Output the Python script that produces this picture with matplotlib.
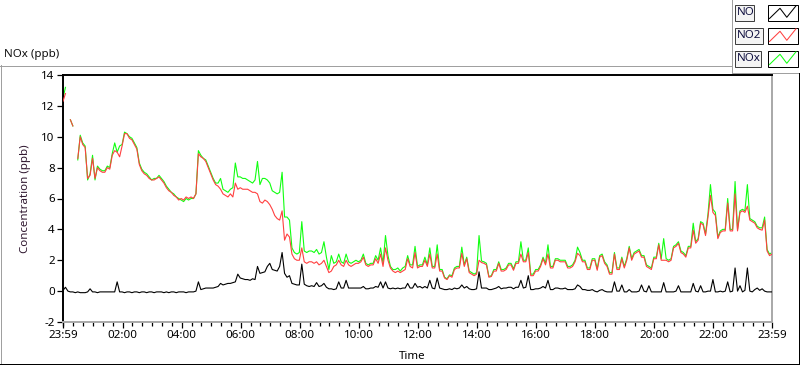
import numpy as np
import matplotlib
matplotlib.use('Agg')
import matplotlib.pyplot as plt
from matplotlib.patches import Rectangle

nan = float('nan')

# ---- data: 5-minute samples from 23:59 (minute 0) to 23:59 next day (minute 1440)
sample_step_min = 5

no2 = [
    12.3, 12.8, nan, 11.1, 10.7, nan, 8.6, 10.0, 9.5, 9.3, 7.3, 7.5,
    8.6, 7.3, 8.0, 7.8, 7.7, 7.7, 8.0, 7.9, 8.8, 9.1, 9.0, 8.7,
    9.4, 10.2, 10.2, 9.9, 9.8, 9.5, 9.2, 8.2, 7.8, 7.6, 7.5, 7.3,
    7.2, 7.2, 7.3, 7.4, 7.2, 7.0, 6.7, 6.5, 6.4, 6.2, 6.1, 5.9,
    6.0, 5.9, 6.1, 6.0, 6.1, 6.0, 6.3, 8.9, 8.7, 8.6, 8.4, 8.0,
    7.6, 7.2, 6.9, 6.8, 6.6, 6.3, 6.2, 6.1, 6.3, 6.1, 7.0, 6.6,
    6.7, 6.6, 6.6, 6.6, 6.5, 6.4, 6.4, 6.3, 5.8, 5.7, 5.9, 5.8,
    5.6, 5.3, 4.9, 4.7, 4.6, 5.2, 3.3, 3.7, 3.5, 2.4, 2.1, 2.0,
    2.0, 2.8, 1.9, 1.8, 1.9, 1.9, 1.8, 1.9, 1.7, 1.8, 2.0, 1.6,
    1.2, 1.3, 1.6, 1.7, 2.0, 1.7, 1.6, 2.0, 1.7, 1.6, 1.7, 1.8,
    1.8, 1.9, 2.2, 1.7, 1.6, 1.7, 1.7, 2.1, 1.8, 2.4, 1.6, 2.8,
    2.0, 1.5, 1.3, 1.2, 1.3, 1.2, 1.3, 1.4, 2.1, 1.6, 1.5, 2.5,
    1.5, 1.6, 1.6, 2.0, 1.6, 2.4, 1.5, 1.5, 2.4, 1.3, 1.3, 0.85,
    0.75, 1.0, 0.9, 1.4, 1.5, 1.5, 2.45, 1.6, 2.1, 1.2, 1.1, 1.0,
    1.1, 2.0, 1.85, 1.8, 1.7, 0.9, 0.95, 1.3, 1.3, 1.8, 1.3, 1.3,
    1.4, 1.7, 1.7, 1.35, 1.8, 1.8, 2.4, 1.9, 1.9, 2.5, 1.0, 1.0,
    1.3, 1.3, 1.6, 2.1, 1.7, 2.4, 1.5, 1.5, 2.0, 2.0, 1.9, 1.9,
    1.9, 1.5, 1.5, 1.6, 1.9, 2.45, 2.3, 1.9, 1.9, 1.4, 1.4, 2.0,
    2.0, 1.35, 2.2, 2.3, 1.8, 1.6, 1.1, 1.1, 2.4, 1.4, 1.4, 2.1,
    1.5, 2.0, 2.8, 2.0, 2.4, 2.5, 2.6, 2.2, 2.2, 1.6, 1.5, 1.4,
    2.1, 2.1, 3.0, 2.0, 2.0, 2.0, 1.9, 2.0, 2.8, 2.9, 3.1, 2.5,
    2.4, 2.2, 2.8, 2.8, 3.95, 3.1, 3.3, 4.4, 4.3, 3.6, 4.8, 6.2,
    5.1, 4.9, 3.4, 3.8, 3.9, 3.9, 5.7, 3.9, 3.9, 6.3, 3.9, 5.1,
    5.2, 5.1, 5.5, 4.6, 4.5, 4.4, 4.1, 4.0, 3.95, 4.6, 2.6, 2.3, 2.4,
]

nox = [
    12.5, 13.2, nan, 11.1, 10.7, nan, 8.5, 10.1, 9.6, 9.4, 7.2, 7.6,
    8.8, 7.2, 8.1, 7.9, 7.8, 7.8, 8.1, 8.0, 8.9, 9.6, 9.0, 9.4,
    9.5, 10.3, 10.2, 10.0, 9.9, 9.6, 9.3, 8.3, 7.9, 7.7, 7.6, 7.4,
    7.2, 7.3, 7.3, 7.5, 7.3, 7.1, 6.8, 6.6, 6.4, 6.3, 6.1, 6.0,
    5.9, 5.8, 6.0, 5.9, 6.0, 6.0, 6.3, 9.1, 8.8, 8.6, 8.5, 8.1,
    7.7, 7.3, 7.0, 7.0, 7.3, 6.6, 6.5, 6.4, 6.6, 6.7, 8.3, 7.4,
    7.4, 7.3, 7.3, 7.2, 7.1, 7.0, 7.2, 8.4, 6.9, 7.3, 7.3, 7.2,
    7.0, 6.5, 6.4, 6.3, 6.4, 7.7, 4.8, 4.8, 4.6, 2.8, 2.5, 2.4,
    2.5, 4.5, 2.6, 2.5, 2.6, 2.6, 2.5, 2.7, 2.4, 2.5, 3.2, 2.2,
    1.4, 2.3, 1.8, 1.9, 2.4, 1.9, 1.8, 2.4, 1.9, 1.8, 1.9, 2.0,
    1.9, 2.0, 2.4, 1.8, 1.7, 1.8, 1.8, 2.3, 2.0, 2.8, 1.8, 3.6,
    2.3, 1.6, 1.4, 1.4, 1.5, 1.3, 1.5, 1.6, 2.3, 1.7, 1.7, 2.9,
    1.6, 1.7, 1.7, 2.2, 1.7, 2.8, 1.6, 1.6, 3.0, 1.4, 1.4, 0.9,
    0.8, 1.05, 1.0, 1.5, 1.6, 1.6, 2.85, 1.7, 2.2, 1.3, 1.2, 1.1,
    1.2, 3.6, 1.95, 1.9, 1.8, 0.95, 1.0, 1.4, 1.4, 1.9, 1.4, 1.4,
    1.5, 1.8, 1.8, 1.45, 1.9, 1.9, 3.2, 2.0, 2.0, 2.8, 1.1, 1.1,
    1.4, 1.4, 1.7, 2.2, 1.8, 3.0, 1.6, 1.6, 2.1, 2.1, 2.0, 2.0,
    2.0, 1.6, 1.6, 1.7, 2.0, 2.85, 2.5, 2.0, 2.0, 1.5, 1.5, 2.1,
    2.1, 1.45, 2.3, 2.4, 1.9, 1.7, 1.2, 1.2, 2.5, 1.5, 1.5, 2.2,
    1.6, 2.1, 2.9, 2.1, 2.5, 2.6, 2.7, 2.3, 2.3, 1.7, 1.6, 1.5,
    2.2, 2.2, 3.1, 2.1, 3.4, 2.1, 2.0, 2.1, 2.9, 3.0, 3.2, 2.6,
    2.5, 2.3, 2.9, 2.9, 4.4, 3.2, 3.4, 4.5, 4.4, 3.7, 5.0, 6.9,
    5.3, 5.1, 3.5, 3.9, 4.0, 4.0, 6.0, 4.0, 4.0, 7.1, 4.0, 5.2,
    5.3, 5.2, 6.9, 4.7, 4.6, 4.5, 4.2, 4.1, 4.1, 4.8, 2.7, 2.4, 2.5,
]

no = [
    0.05, 0.25, 0.0, -0.05, -0.05, -0.1, -0.05, -0.1, -0.1, -0.1, -0.05, 0.15,
    -0.05, -0.05, -0.1, -0.05, -0.05, -0.05, -0.05, -0.05, -0.05, -0.05, 0.6, -0.05,
    -0.05, -0.1, -0.05, -0.05, -0.1, -0.05, -0.05, -0.1, -0.05, -0.05, -0.1, -0.05,
    -0.05, -0.1, -0.05, -0.05, -0.05, -0.1, -0.05, -0.1, -0.05, -0.05, -0.1, -0.05,
    -0.05, -0.05, -0.1, -0.05, -0.05, -0.05, 0.0, 0.6, 0.1, 0.15, 0.2, 0.2,
    0.2, 0.2, 0.25, 0.3, 0.5, 0.4, 0.45, 0.5, 0.5, 0.55, 0.6, 1.1,
    0.85, 0.8, 0.75, 0.75, 0.7, 0.8, 0.75, 1.6, 1.15, 1.2, 1.25, 1.6,
    1.8, 1.4, 1.35, 1.3, 1.6, 2.5, 1.15, 0.9, 1.0, 0.5, 0.45, 0.4,
    0.4, 1.75, 0.45, 0.35, 0.3, 0.35, 0.3, 0.55, 0.3, 0.35, 0.5, 0.25,
    0.15, 0.15, 0.1, 0.15, 0.6, 0.2, 0.2, 0.7, 0.2, 0.2, 0.2, 0.2,
    0.2, 0.2, 0.3, 0.15, 0.15, 0.2, 0.2, 0.3, 0.25, 0.6, 0.2, 0.6,
    0.2, 0.15, 0.2, 0.15, 0.2, 0.15, 0.2, 0.2, 0.5, 0.2, 0.2, 0.5,
    0.25, 0.3, 0.2, 0.3, 0.2, 0.7, 0.2, 0.15, 0.85, 0.2, 0.15, 0.1,
    0.1, 0.15, 0.1, 0.2, 0.15, 0.2, 0.4, 0.2, 0.3, 0.15, 0.1, 0.1,
    0.15, 1.25, 0.2, 0.2, 0.2, 0.1, 0.1, 0.15, 0.2, 0.3, 0.15, 0.2,
    0.2, 0.25, 0.25, 0.15, 0.25, 0.25, 0.7, 0.2, 0.25, 1.0, 0.1, 0.1,
    0.15, 0.15, 0.2, 0.3, 0.2, 0.7, 0.1, 0.1, 0.2, 0.2, 0.15, 0.15,
    0.2, 0.1, 0.1, 0.1, 0.15, 0.4, 0.3, 0.1, 0.1, 0.05, 0.05, 0.1,
    0.0, -0.05, 0.05, 0.1, 0.0, -0.05, -0.05, -0.05, 0.6, 0.0, 0.0, 0.4,
    -0.05, -0.05, 0.1, -0.05, -0.05, -0.05, 0.0, 0.4, 0.0, -0.05, 0.35, -0.05,
    -0.05, -0.05, -0.05, -0.05, 0.55, -0.05, -0.05, -0.05, -0.05, 0.0, 0.35, -0.05,
    -0.05, -0.05, -0.05, -0.05, 0.5, 0.0, -0.05, 0.35, -0.05, -0.05, 0.0, 0.0,
    0.75, -0.05, -0.05, 0.0, -0.05, 0.0, 0.6, -0.05, 0.0, 1.5, 0.0, 0.35,
    -0.05, 0.05, 1.5, 0.0, -0.05, 0.1, 0.2, 0.05, 0.15, 0.0, -0.05, -0.05, -0.05,
]

x_tick_minutes = [0, 121, 241, 361, 481, 601, 721, 841, 961, 1081, 1201, 1321, 1440]
x_tick_labels = ['23:59', '02:00', '04:00', '06:00', '08:00', '10:00', '12:00',
                 '14:00', '16:00', '18:00', '20:00', '22:00', '23:59']
y_ticks = [-2, 0, 2, 4, 6, 8, 10, 12, 14]

series_names = ['NO', 'NO2', 'NOx']
series_colors = ['#000000', '#ff4040', '#10ff10']

minutes = np.arange(len(no2)) * sample_step_min

# ---- figure
W, H = 800, 365
fig = plt.figure(figsize=(W / 100, H / 100), dpi=100)
fig.patch.set_facecolor('white')
FONT = 'Noto Sans'

# background overlay in pixel coordinates
bg = fig.add_axes([0, 0, 1, 1])
bg.set_xlim(0, W)
bg.set_ylim(H, 0)
bg.axis('off')
px = 0.72
gray = '#a0a0a0'
bg.plot([0.5, 0.5], [65, 364], color=gray, lw=px)
bg.plot([0, 731.5], [65.5, 65.5], color=gray, lw=px)
bg.plot([731.5, 731.5], [0, 72.5], color=gray, lw=px)
bg.plot([731.5, 800], [72.5, 72.5], color=gray, lw=px)
bg.plot([0, 800], [363.5, 363.5], color='black', lw=px)
bg.plot([798.5, 798.5], [72.5, 364], color='black', lw=px)

bg.text(4, 55, 'NOx (ppb)', fontsize=8.3, family=FONT, va='center', ha='left', color='#101010')

# legend
leg_tops = [4, 27, 50]
leg_label_w = [19, 28, 26]
for name, col, top, lw_ in zip(series_names, series_colors, leg_tops, leg_label_w):
    bg.add_patch(Rectangle((734.5, top + 0.5), lw_, 16, facecolor='#f4f4f4',
                           edgecolor='#404040', lw=px))
    bg.text(736.5, top + 8.8, name, fontsize=8.3, family=FONT, va='center', ha='left', color='#101040')
    bg.add_patch(Rectangle((767.5, top + 0.5), 30, 16, facecolor='white',
                           edgecolor='black', lw=px))
    zx = [769.5, 780, 786.8, 796]
    zy = [top + 14.5, top + 4.3, top + 13.3, top + 1.8]
    bg.plot(zx, zy, color=col, lw=0.75)

# main plot
ax = fig.add_axes([63 / W, 1 - 322 / H, (772 - 63) / W, (322 - 75) / H])
ax.set_facecolor('white')
ax.plot(minutes, nox, color=series_colors[2], lw=0.8, zorder=2)
ax.plot(minutes, no2, color=series_colors[1], lw=0.8, zorder=3)
ax.plot(minutes, no, color=series_colors[0], lw=0.8, zorder=4)

ax.set_xlim(0, 1440)
ax.set_ylim(-2, 14)
ax.set_xticks(x_tick_minutes)
ax.set_xticklabels(x_tick_labels)
ax.set_xticks([m for m in range(1, 1440, 20)], minor=True)
ax.set_yticks(y_ticks)
ax.set_yticklabels([str(v) for v in y_ticks])

for s in ['left', 'top']:
    ax.spines[s].set_color('black')
    ax.spines[s].set_linewidth(1.4)
for s in ['right', 'bottom']:
    ax.spines[s].set_color('#a8a8a8')
    ax.spines[s].set_linewidth(1.4)

ax.tick_params(axis='both', which='major', direction='out', length=4, width=0.9,
               labelsize=8.3, pad=2, colors='black')
ax.tick_params(axis='x', which='minor', direction='out', length=3, width=0.9, colors='black')
for lab in ax.get_xticklabels() + ax.get_yticklabels():
    lab.set_family(FONT)

ax.set_ylabel('Concentration (ppb)', fontsize=8.3, family=FONT, color='#301830')
ax.yaxis.set_label_coords((31 - 63) / 709, 0.5)
ax.set_xlabel('Time', fontsize=8.3, family=FONT, color='black')
ax.xaxis.set_label_coords((412 - 63) / 709, (322 - 351) / 247)

fig.savefig('out.png', dpi=100, facecolor='white')
